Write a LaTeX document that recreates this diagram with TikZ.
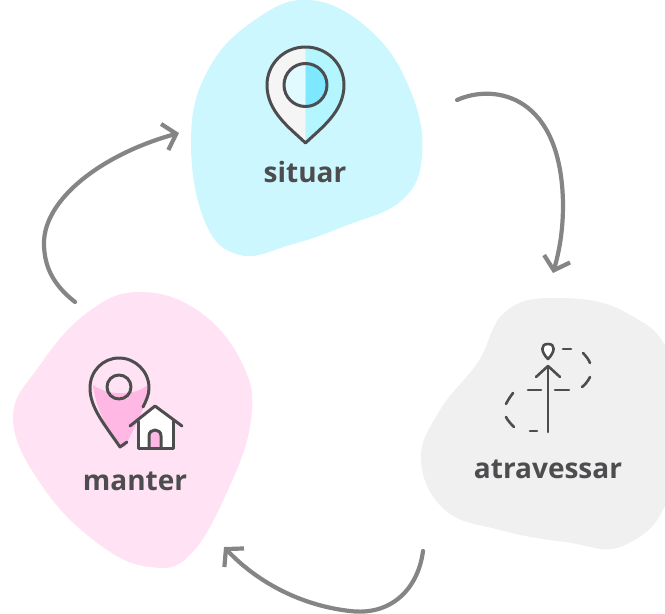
\documentclass[tikz,border=0pt]{standalone}
\usepackage{fontspec}
\setmainfont{Open Sans}
\usetikzlibrary{arrows.meta}
\definecolor{inkgray}{HTML}{4D4D4F}
\definecolor{arrowgray}{HTML}{858585}
\definecolor{blobblue}{HTML}{CCF7FF}
\definecolor{blobgray}{HTML}{F0F0F0}
\definecolor{blobpink}{HTML}{FFE3F5}
\definecolor{pinblue}{HTML}{B3F6FF}
\definecolor{pindeep}{HTML}{7DE8FF}
\definecolor{pinpale}{HTML}{E0FAFF}
\definecolor{pinwhite}{HTML}{F5F5F5}
\definecolor{pinpink}{HTML}{FFB8E3}
\tikzset{word/.style = {font=\fontsize{28}{32}\selectfont\bfseries, text=inkgray, inner sep=0pt}}
\tikzset{flow/.style = {draw=arrowgray, line width=4.2pt, line cap=round, -{Straight Barb[length=12pt,width=27pt,line width=4.2pt]}}}
\tikzset{icon/.style = {draw=inkgray, line width=3pt, line join=round, line cap=round}}
\tikzset{trail/.style = {draw=inkgray, line width=2.6pt, line cap=round, line join=round}}
\begin{document}
\begin{tikzpicture}[x=1pt, y=-1pt]
		\useasboundingbox (0,0) rectangle (665,614);
		\clip (0,0) rectangle (665,614);
		% Blobs
		\fill[blobblue] plot[smooth cycle, tension=0.7] coordinates {(191,140) (207,72) (252,22) (310,0) (372,32) (411,92) (422,155) (402,200) (345,226) (290,245) (240,255) (205,222)};
		\fill[blobgray] plot[smooth cycle, tension=0.7] coordinates {(421,460) (440,410) (478,362) (505,312) (555,298) (625,312) (672,365) (670,490) (625,545) (565,542) (500,530) (445,510)};
		\fill[blobpink] plot[smooth cycle, tension=0.7] coordinates {(13,420) (40,365) (88,312) (140,292) (200,312) (243,365) (251,420) (228,490) (190,555) (150,567) (100,545) (45,490)};
		% Labels
		\node[word] (situar) at (305,172) {situar};
		\node[word] (atravessar) at (548,469) {atravessar};
		\node[word] (manter) at (135,481) {manter};
		% Pin, situar
		\fill[pinwhite] (305.5,47) .. controls (284,47) and (267,64) .. (267,85) .. controls (267,112) and (290,128) .. (305.5,143) -- cycle;
		\fill[pinblue] (305.5,47) .. controls (327,47) and (344,64) .. (344,85) .. controls (344,112) and (321,128) .. (305.5,143) -- cycle;
		\fill[pinpale] (305.5,63) .. controls (293.5,63) and (284,73) .. (284,85) .. controls (284,97) and (293.5,107) .. (305.5,107) -- cycle;
		\fill[pindeep] (305.5,63) .. controls (317.5,63) and (327,73) .. (327,85) .. controls (327,97) and (317.5,107) .. (305.5,107) -- cycle;
		\draw[icon] (305.5,47) .. controls (284,47) and (267,64) .. (267,85) .. controls (267,112) and (290,128) .. (305.5,143) .. controls (321,128) and (344,112) .. (344,85) .. controls (344,64) and (327,47) .. (305.5,47) -- cycle;
		\draw[icon] (305.5,85) circle[radius=21.5];
		% Trail, atravessar
		\draw[trail, fill=white] (548,359) .. controls (541,352) and (540,344) .. (548,344) .. controls (556,344) and (555,352) .. (548,359) -- cycle;
		\draw[trail] (548,432) -- (548,366);
		\draw[trail] (536,377) -- (548,366) -- (560,377);
		\draw[trail] (528,390) -- (541,390);
		\draw[trail] (555,390) -- (569,390);
		\draw[trail] (563,349) -- (571,349);
		\draw[trail] (583,353) .. controls (586,356) and (589,360) .. (590,363);
		\draw[trail] (590,377) .. controls (588,381) and (585,385) .. (582,387);
		\draw[trail] (513,393) .. controls (510,397) and (508,400) .. (506,404);
		\draw[trail] (506,417) .. controls (508,421) and (511,424) .. (514,427);
		\draw[trail] (530,431) -- (537,431);
		% Pin, manter
		\fill[pinpink] (93,385) .. controls (108,396) and (135,396) .. (148,385) .. controls (146,410) and (135,425) .. (125,447) -- (120,447) .. controls (108,430) and (96,410) .. (93,385) -- cycle;
		\draw[icon] (127,442) -- (120,447) .. controls (105,425) and (90,408) .. (90,388) .. controls (90,371) and (103,358) .. (119,358) .. controls (135,358) and (149,371) .. (149,388) .. controls (149,395) and (146,401) .. (143,407);
		\draw[icon] (119,387) circle[radius=12];
		\fill[white] (155,406) -- (138,421) -- (138,448) -- (173,448) -- (173,421) -- cycle;
		\fill[pinpink] (149,448) -- (149,436) .. controls (149,432) and (152,430) .. (155,430) .. controls (158,430) and (161,432) .. (161,436) -- (161,448) -- cycle;
		\draw[icon] (130,426) -- (155,406) -- (182,426);
		\draw[icon] (138,421) -- (138,448) -- (173,448) -- (173,421);
		\draw[icon] (149,448) -- (149,436) .. controls (149,432) and (152,430) .. (155,430) .. controls (158,430) and (161,432) .. (161,436) -- (161,448);
		% Arrows
		\coordinate (a1) at (457,100);
		\coordinate (a2) at (563,205);
		\coordinate (a3) at (553,273);
		\coordinate (b1) at (423,551);
		\coordinate (b2) at (350,611);
		\coordinate (b3) at (224,547);
		\coordinate (c1) at (75,302);
		\coordinate (c2) at (44,243);
		\coordinate (c3) at (179,133);
		\draw[flow] (a1) .. controls (495,83) and (562,95) .. (a2) .. controls (563,232) and (559,252) .. (a3);
		\draw[flow] (b1) .. controls (418,590) and (390,616) .. (b2) .. controls (305,606) and (260,585) .. (b3);
		\draw[flow] (c1) .. controls (52,284) and (44,265) .. (c2) .. controls (44,200) and (100,155) .. (c3);
		\end{tikzpicture}
\end{document}
